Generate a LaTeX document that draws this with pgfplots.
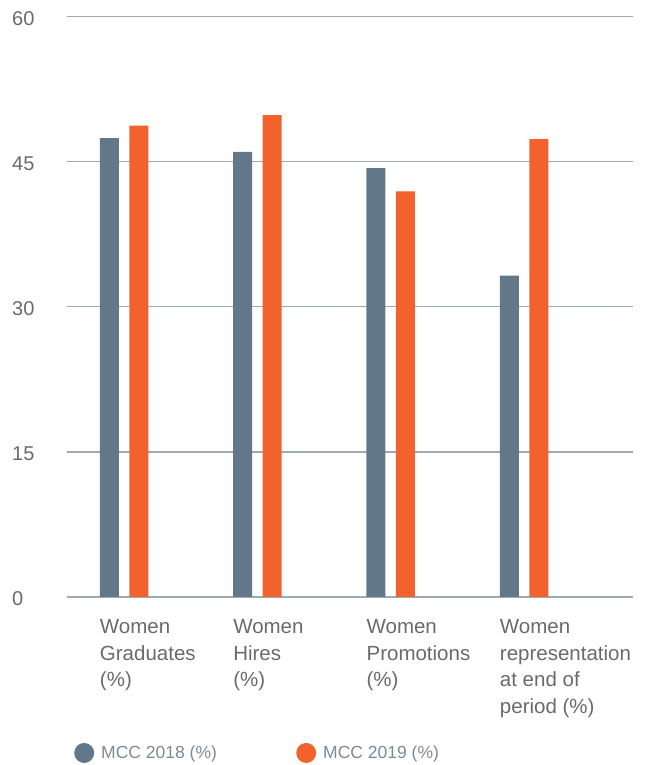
\documentclass[border=0pt]{standalone}
\usepackage{fontspec}
\setmainfont{Liberation Sans}
\usepackage{pgfplots}
\pgfplotsset{compat=1.18}
\definecolor{c18}{HTML}{627888}
\definecolor{c19}{HTML}{F2622C}
\definecolor{gridc}{HTML}{9CAAB6}
\definecolor{txt}{HTML}{6A6A6A}
\definecolor{legtxt}{HTML}{7A8B98}
\begin{document}
\begin{tikzpicture}
\path[use as bounding box] (0pt,0pt) rectangle (645pt,765pt);
\begin{axis}[
  at={(67pt,168pt)}, anchor=south west,
  scale only axis, width=566pt, height=580.7pt,
  xmin=-0.4275, xmax=3.8175,
  ymin=0, ymax=60,
  ytick={0,15,30,45,60},
  xtick={0,1,2,3},
  xticklabels={{Women\\Graduates\\(\%)},{Women\\Hires\\(\%)},{Women\\Promotions\\(\%)},{Women\\representation\\at end of\\period (\%)}},
  axis line style={draw=none},
  major tick length=0pt,
  ymajorgrids,
  grid style={gridc, line width=1.5pt},
  /pgf/number format/assume math mode=true,
  xticklabel style={anchor=north west, align=left, inner sep=0pt, xshift=-24.25pt, yshift=-22.5pt, font=\fontsize{20.5}{26.5}\selectfont, text=txt},
  yticklabel style={anchor=west, inner sep=0pt, xshift=-55pt, yshift=-2pt, font=\fontsize{20}{23}\selectfont, text=txt},
  legend columns=2,
  legend style={at={(axis description cs:0.01237,-0.2686)}, anchor=west, draw=none, fill=none, inner sep=0pt, column sep=7pt, font=\fontsize{17.5}{20}\selectfont, text=legtxt, nodes={inner sep=0pt}},
]
\addplot[ybar, bar width=19pt, bar shift=-14.75pt, fill=c18, draw=none,
  legend image code/.code={\fill[c18] (10pt,0pt) circle (10pt);}]
  coordinates {(0,47.4) (1,46.0) (2,44.3) (3,33.2)};
\addlegendentry{\makebox[188pt][l]{MCC 2018 (\%)}}
\addplot[ybar, bar width=19pt, bar shift=14.75pt, fill=c19, draw=none,
  legend image code/.code={\fill[c19] (10pt,0pt) circle (10pt);}]
  coordinates {(0,48.7) (1,49.8) (2,41.9) (3,47.3)};
\addlegendentry{MCC 2019 (\%)}
\end{axis}
\end{tikzpicture}
\end{document}
